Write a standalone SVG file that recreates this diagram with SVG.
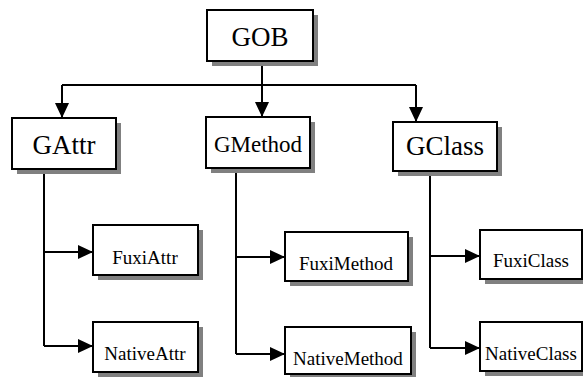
<svg xmlns="http://www.w3.org/2000/svg" width="584" height="377" viewBox="0 0 584 377">
<style>
.sh{fill:#808080;stroke:none}
.bx{fill:#fff;stroke:#000;stroke-width:2}
text{font-family:'Liberation Serif','DejaVu Serif',serif;fill:#000;text-anchor:middle}
.big{font-size:27px}
.mid{font-size:23px}
.sm{font-size:19px}
.ln{fill:none;stroke:#000;stroke-width:2}
</style>
<defs>
<marker id="ah" markerUnits="userSpaceOnUse" markerWidth="16" markerHeight="14" refX="15" refY="7" orient="auto">
<path d="M0,0 L15,7 L0,14 Z" fill="#000"/>
</marker>
</defs>
<g id="connectors">
<path class="ln" d="M262,61 V85"/>
<path class="ln" d="M62,85 H416"/>
<path class="ln" d="M62,85 V118" marker-end="url(#ah)"/>
<path class="ln" d="M262,85 V117" marker-end="url(#ah)"/>
<path class="ln" d="M416,85 V122" marker-end="url(#ah)"/>
<path class="ln" d="M44,169 V346"/>
<path class="ln" d="M44,252 H93" marker-end="url(#ah)"/>
<path class="ln" d="M44,346 H93" marker-end="url(#ah)"/>
<path class="ln" d="M236,168 V354"/>
<path class="ln" d="M236,257 H285" marker-end="url(#ah)"/>
<path class="ln" d="M236,354 H285" marker-end="url(#ah)"/>
<path class="ln" d="M430,171 V348"/>
<path class="ln" d="M430,256 H480" marker-end="url(#ah)"/>
<path class="ln" d="M430,348 H480" marker-end="url(#ah)"/>
</g>
<g id="GOB">
<rect class="sh" x="212" y="15" width="106" height="51"/>
<rect class="bx" x="207" y="10" width="106" height="51"/>
<text class="big" x="260" y="46" font-family="Liberation Serif, serif">GOB</text>
</g>
<g id="GAttr">
<rect class="sh" x="17" y="123" width="104" height="51"/>
<rect class="bx" x="12" y="118" width="104" height="51"/>
<text class="big" x="64" y="154">GAttr</text>
</g>
<g id="GMethod">
<rect class="sh" x="211" y="122" width="104" height="51"/>
<rect class="bx" x="206" y="117" width="104" height="51"/>
<text class="mid" x="258" y="152">GMethod</text>
</g>
<g id="GClass">
<rect class="sh" x="398" y="127" width="104" height="49"/>
<rect class="bx" x="393" y="122" width="104" height="49"/>
<text class="big" x="445" y="155">GClass</text>
</g>
<g id="FuxiAttr">
<rect class="sh" x="98" y="230" width="105" height="50"/>
<rect class="bx" x="93" y="225" width="105" height="50"/>
<text class="sm" x="145" y="264">FuxiAttr</text>
</g>
<g id="NativeAttr">
<rect class="sh" x="98" y="327" width="105" height="50"/>
<rect class="bx" x="93" y="322" width="105" height="50"/>
<text class="sm" x="145" y="360">NativeAttr</text>
</g>
<g id="FuxiMethod">
<rect class="sh" x="290" y="237" width="123" height="49"/>
<rect class="bx" x="285" y="232" width="123" height="49"/>
<text class="sm" x="346" y="270">FuxiMethod</text>
</g>
<g id="NativeMethod">
<rect class="sh" x="290" y="332" width="126" height="47"/>
<rect class="bx" x="285" y="327" width="126" height="47"/>
<text class="sm" x="348" y="365">NativeMethod</text>
</g>
<g id="FuxiClass">
<rect class="sh" x="485" y="235" width="98" height="49"/>
<rect class="bx" x="480" y="230" width="102" height="49"/>
<text class="sm" x="531" y="267">FuxiClass</text>
</g>
<g id="NativeClass">
<rect class="sh" x="485" y="327" width="98" height="49"/>
<rect class="bx" x="480" y="322" width="102" height="49"/>
<text class="sm" x="531" y="360">NativeClass</text>
</g>
</svg>
